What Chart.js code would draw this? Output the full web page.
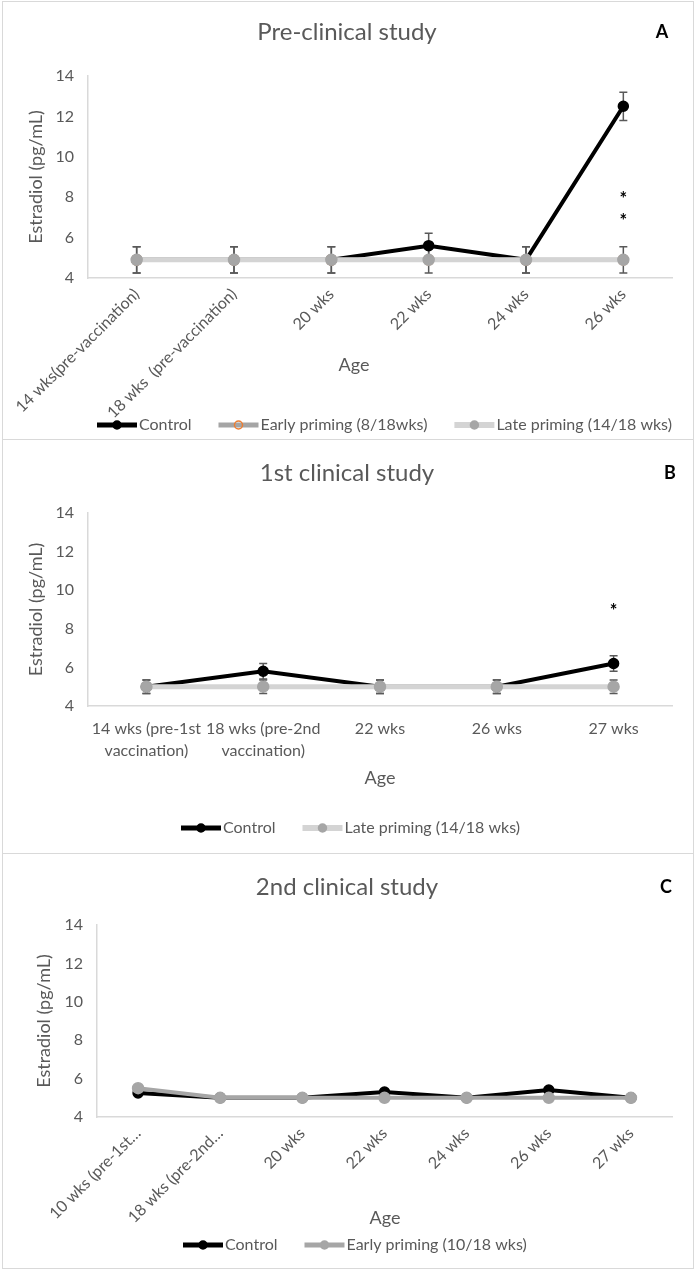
<!DOCTYPE html>
<html>
<head>
<meta charset="utf-8">
<script src="https://cdn.jsdelivr.net/npm/chart.js@4.4.0/dist/chart.umd.min.js"></script>
<style>
  body { margin: 0; background: #fff; width: 694px; height: 1270px; position: relative; overflow: hidden; }
  canvas { position: absolute; left: 0; }
  .frame { position: absolute; left: 2px; width: 692px; border: 1px solid #d9d9d9; box-sizing: border-box; pointer-events: none; }
</style>
</head>
<body>
<canvas id="chartA" width="694" height="440" style="top:0"></canvas>
<canvas id="chartB" width="694" height="413" style="top:440px"></canvas>
<canvas id="chartC" width="694" height="417" style="top:853px"></canvas>
<div class="frame" style="top:1px;height:439px"></div>
<div class="frame" style="top:439px;height:415px"></div>
<div class="frame" style="top:853px;height:416px"></div>
<script>
// ---- data ----
const labelsA = ['14 wks(pre-vaccination)', '18 wks  (pre-vaccination)', '20 wks', '22 wks', '24 wks', '26 wks'];
const controlA = [4.9, 4.9, 4.9, 5.6, 4.9, 12.5];
const controlErrA = [0.65, 0.65, 0.65, 0.62, 0.65, 0.7];
const earlyA = [4.9, 4.9, 4.9, 4.9, 4.9, 4.9];
const lateA = [4.9, 4.9, 4.9, 4.9, 4.9, 4.9];
const lateErrA = [0.65, 0.65, 0.65, 0.65, 0.65, 0.65];
const starsA = [[5, 8.1], [5, 7.0]];

const labelsB = [['14 wks (pre-1st', 'vaccination)'], ['18 wks (pre-2nd', 'vaccination)'], '22 wks', '26 wks', '27 wks'];
const controlB = [5.0, 5.8, 5.0, 5.0, 6.2];
const controlErrB = [0.35, 0.4, 0.35, 0.35, 0.4];
const lateB = [5.0, 5.0, 5.0, 5.0, 5.0];
const lateErrB = [0.35, 0.35, 0.35, 0.35, 0.35];
const starsB = [[4, 9.1]];

const labelsC = ['10 wks (pre-1st\u2026', '18 wks (pre-2nd\u2026', '20 wks', '22 wks', '24 wks', '26 wks', '27 wks'];
const controlC = [5.25, 5.0, 5.0, 5.3, 5.0, 5.4, 5.0];
const earlyC = [5.5, 5.0, 5.0, 5.0, 5.0, 5.0, 5.0];

const yTicks = [4, 14, 2]; // min, max, step

const gray = '#595959';
const fam = 'Lato, "Open Sans", sans-serif';

function drawErrorBars(chart) {
    const ctx = chart.ctx;
    const y = chart.scales.y;
    chart.data.datasets.forEach((ds, di) => {
        if (!ds.errors) return;
        const meta = chart.getDatasetMeta(di);
        ctx.save();
        ctx.strokeStyle = gray;
        ctx.lineWidth = 1.5;
        ds.data.forEach((v, i) => {
            const e = ds.errors[i];
            if (!e) return;
            const px = meta.data[i].x;
            const top = y.getPixelForValue(v + e);
            const bot = y.getPixelForValue(v - e);
            ctx.beginPath();
            ctx.moveTo(px, top); ctx.lineTo(px, bot);
            ctx.moveTo(px - 4, top); ctx.lineTo(px + 4, top);
            ctx.moveTo(px - 4, bot); ctx.lineTo(px + 4, bot);
            ctx.stroke();
        });
        ctx.restore();
    });
}

function panelText(p) {
    return {
        id: 'panelText',
        beforeDatasetsDraw(chart) {
            drawErrorBars(chart);
        },
        afterDraw(chart) {
            const ctx = chart.ctx;
            ctx.save();
            ctx.textBaseline = 'middle';
            // title + letter
            ctx.fillStyle = gray;
            ctx.textAlign = 'center';
            ctx.font = '24px ' + fam;
            ctx.fillText(p.title, p.titleX, p.titleY);
            ctx.fillStyle = '#000';
            ctx.font = 'bold 18px ' + fam;
            ctx.fillText(p.letter, p.letterX, p.titleY);
            // axis titles
            ctx.fillStyle = gray;
            ctx.font = '18px ' + fam;
            ctx.fillText('Age', p.ageX, p.ageY);
            ctx.save();
            ctx.translate(p.yTitleX, (chart.chartArea.top + chart.chartArea.bottom) / 2);
            ctx.rotate(-Math.PI / 2);
            ctx.fillText('Estradiol (pg/mL)', 0, 0);
            ctx.restore();
            // significance marks
            ctx.fillStyle = '#000';
            ctx.font = 'bold 18px ' + fam;
            (p.stars || []).forEach(s => {
                const x = chart.scales.x.getPixelForValue(s[0]);
                const y = chart.scales.y.getPixelForValue(s[1]);
                ctx.fillText('*', x, y + 4);
            });
            // legend
            let lx = p.legendX;
            const ly = p.legendY;
            ctx.font = '16px ' + fam;
            ctx.textAlign = 'left';
            chart.data.datasets.forEach(ds => {
                ctx.strokeStyle = ds.borderColor;
                ctx.lineWidth = ds.borderWidth + 1;
                ctx.beginPath();
                ctx.moveTo(lx, ly); ctx.lineTo(lx + 40, ly);
                ctx.stroke();
                ctx.beginPath();
                ctx.arc(lx + 20, ly, 4, 0, Math.PI * 2);
                ctx.fillStyle = ds.pointBackgroundColor;
                ctx.fill();
                ctx.lineWidth = 1.5;
                ctx.strokeStyle = ds.pointBorderColor;
                ctx.stroke();
                ctx.fillStyle = gray;
                ctx.fillText(ds.label, lx + 42, ly);
                lx += 42 + ctx.measureText(ds.label).width + 27;
            });
            ctx.restore();
        }
    };
}

function series(label, data, color, width, fill, border, radius, order, errors) {
    return {
        label: label,
        data: data,
        borderColor: color,
        borderWidth: width,
        pointBackgroundColor: fill,
        pointBorderColor: border,
        pointBorderWidth: 1.5,
        pointRadius: radius,
        tension: 0,
        order: order,
        errors: errors
    };
}

function makeChart(id, labels, datasets, p) {
    return new Chart(document.getElementById(id), {
        type: 'line',
        data: { labels: labels, datasets: datasets },
        options: {
            responsive: false,
            animation: false,
            layout: { padding: { top: p.top, right: p.right, left: 0, bottom: 0 } },
            plugins: { legend: { display: false }, tooltip: { enabled: false } },
            scales: {
                x: {
                    offset: true,
                    grid: { display: false, drawTicks: false },
                    border: { color: '#d9d9d9', width: 1.5 },
                    ticks: {
                        color: gray,
                        font: { family: fam, size: p.xFont, lineHeight: 1.35 },
                        autoSkip: false,
                        maxRotation: p.rot,
                        minRotation: p.rot,
                        padding: p.xPad
                    },
                    afterFit: s => { s.height = p.xHeight; }
                },
                y: {
                    min: yTicks[0],
                    max: yTicks[1],
                    grid: { display: false, drawTicks: false },
                    border: { color: '#d9d9d9', width: 1.5 },
                    ticks: { stepSize: yTicks[2], color: gray, font: { family: fam, size: 16 }, padding: 14 },
                    afterFit: s => { s.width = p.left; }
                }
            }
        },
        plugins: [panelText(p)]
    });
}

makeChart('chartA', labelsA, [
    series('Control', controlA, '#000000', 4, '#000000', '#000000', 5, 3, controlErrA),
    series('Early priming (8/18wks)', earlyA, '#a5a5a5', 4, 'rgba(0,0,0,0)', '#ed7d31', 5, 2),
    series('Late priming (14/18 wks)', lateA, '#d4d4d4', 5, '#a6a6a6', '#a6a6a6', 5.5, 1, lateErrA)
], {
    top: 76, right: 22, left: 88, xHeight: 162, rot: 45, xPad: 6, xFont: 16,
    title: 'Pre-clinical study', titleX: 347, titleY: 32, letter: 'A', letterX: 662,
    ageX: 354, ageY: 365, yTitleX: 36, legendX: 97, legendY: 425, stars: starsA
});

makeChart('chartB', labelsB, [
    series('Control', controlB, '#000000', 4, '#000000', '#000000', 5, 2, controlErrB),
    series('Late priming (14/18 wks)', lateB, '#d4d4d4', 5, '#a6a6a6', '#a6a6a6', 5.5, 1, lateErrB)
], {
    top: 73, right: 22, left: 88, xHeight: 147, rot: 0, xPad: 12, xFont: 16,
    title: '1st clinical study', titleX: 347, titleY: 33, letter: 'B', letterX: 670,
    ageX: 380, ageY: 338, yTitleX: 36, legendX: 181, legendY: 388, stars: starsB
});

makeChart('chartC', labelsC, [
    series('Control', controlC, '#000000', 4, '#000000', '#000000', 5, 2),
    series('Early priming (10/18 wks)', earlyC, '#a6a6a6', 4, '#a6a6a6', '#a6a6a6', 5.5, 1)
], {
    top: 72, right: 22, left: 97, xHeight: 153, rot: 45, xPad: 6, xFont: 16,
    title: '2nd clinical study', titleX: 347, titleY: 34, letter: 'C', letterX: 666,
    ageX: 385, ageY: 365, yTitleX: 44, legendX: 183, legendY: 392
});
</script>
</body>
</html>
